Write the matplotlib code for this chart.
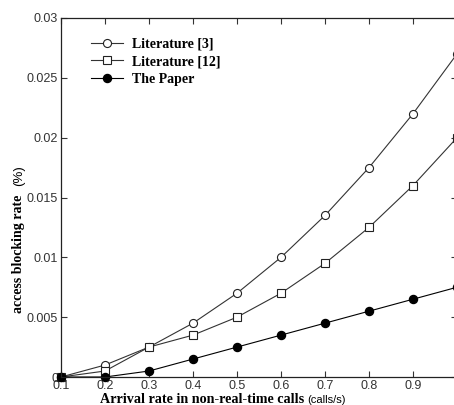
import matplotlib
matplotlib.use('Agg')
import matplotlib.pyplot as plt

# arrival rate (calls/s)
rate = [0.1, 0.2, 0.3, 0.4, 0.5, 0.6, 0.7, 0.8, 0.9, 1.0]
lit3 = [0.0, 0.001, 0.0025, 0.0045, 0.007, 0.010, 0.0135, 0.0175, 0.022, 0.027]
lit12 = [0.0, 0.0005, 0.0025, 0.0035, 0.005, 0.007, 0.0095, 0.0125, 0.016, 0.020]
paper = [0.0, 0.0, 0.0005, 0.0015, 0.0025, 0.0035, 0.0045, 0.0055, 0.0065, 0.0075]

xticks = [0.1, 0.2, 0.3, 0.4, 0.5, 0.6, 0.7, 0.8, 0.9]
xtick_labels = ['0.1', '0.2', '0.3', '0.4', '0.5', '0.6', '0.7', '0.8', '0.9']
yticks = [0, 0.005, 0.01, 0.015, 0.02, 0.025, 0.03]
ytick_labels = ['0', '0.005', '0.01', '0.015', '0.02', '0.025', '0.03']

serif = 'Liberation Serif'
sans = 'Liberation Sans'

fig = plt.figure(figsize=(4.54, 4.05), dpi=100)
ax = fig.add_axes([61 / 454, 28 / 405, 396 / 454, 359 / 405])

line_col = '#333333'
ax.plot(rate, lit3, '-o', color=line_col, lw=0.8, ms=5.8, mfc='white', mec='#222222', mew=0.8,
        label='Literature [3]', clip_on=False)
ax.plot(rate, lit12, '-s', color=line_col, lw=0.8, ms=5.3, mfc='white', mec='#222222', mew=0.8,
        label='Literature [12]', clip_on=False)
ax.plot(rate, paper, '-o', color='black', lw=0.8, ms=5.8, mfc='black', mec='black',
        label='The Paper', clip_on=False)

ax.set_xlim(0.1, 1.0)
ax.set_ylim(0, 0.03)
ax.set_xticks(xticks)
ax.set_xticklabels(xtick_labels, fontfamily=sans, fontsize=9, color='#333333')
ax.set_yticks(yticks)
ax.set_yticklabels(ytick_labels, fontfamily=sans, fontsize=9, color='#333333')
ax.tick_params(direction='in', top=True, right=True, length=4, width=0.8, pad=2, colors='#333333')
for s in ax.spines.values():
    s.set_color('#222222')
    s.set_linewidth(0.9)

# y label: bold serif words plus "(%)" in plain sans, sitting below the axes centre
fig.text(19 / 454, (405 - 313) / 405, 'access blocking rate', fontfamily=serif,
         fontweight='bold', fontsize=10, rotation=90, ha='center', va='bottom')
fig.text(19 / 454, (405 - 186) / 405, '(%)', fontfamily=sans, fontsize=9.5,
         rotation=90, ha='center', va='bottom')

fig.text(100 / 454, 2 / 405, 'Arrival rate in non-real-time calls', fontfamily=serif,
         fontweight='bold', fontsize=10.2, ha='left', va='baseline')
fig.text(307 / 454, 2 / 405, '(calls/s)', fontfamily=sans, fontsize=8, ha='left', va='baseline')

leg = ax.legend(loc='upper left', bbox_to_anchor=(0.045, 0.98), frameon=False,
                prop={'family': serif, 'weight': 'bold', 'size': 10},
                handlelength=2.3, handletextpad=0.6, labelspacing=0.32)

fig.savefig('out.png', dpi=100)
